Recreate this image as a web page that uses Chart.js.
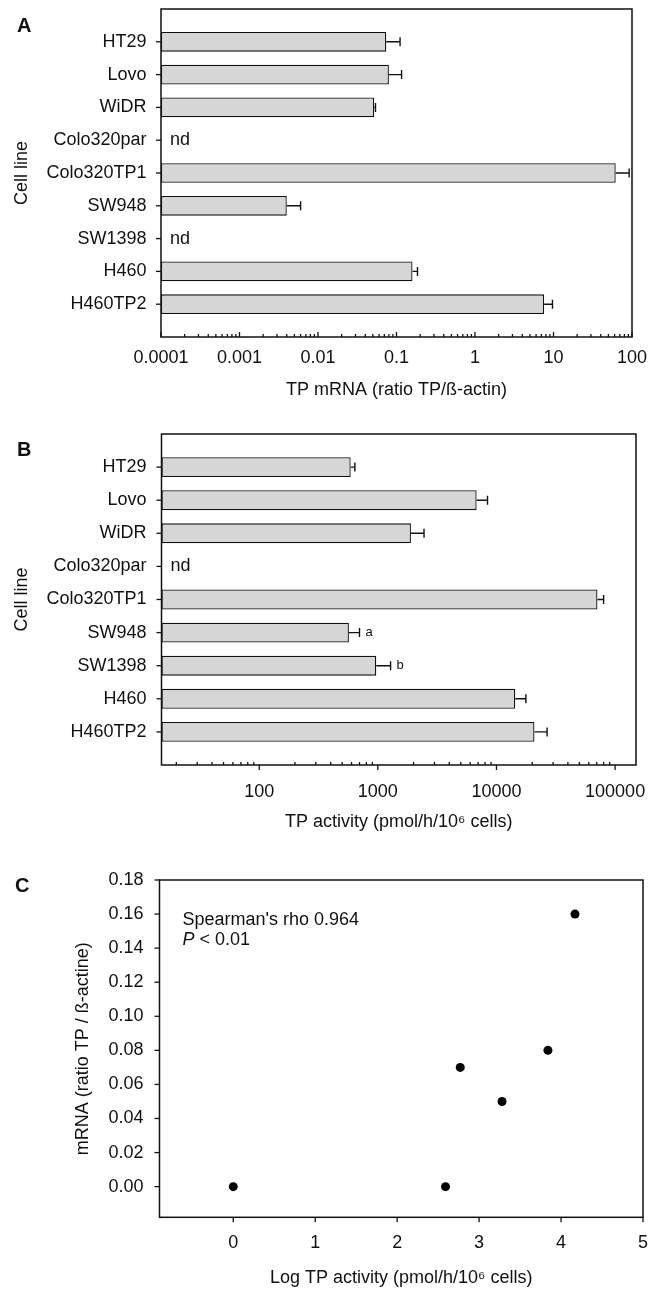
<!DOCTYPE html>
<html>
<head>
<meta charset="utf-8">
<script src="https://cdn.jsdelivr.net/npm/chart.js@4.4.1/dist/chart.umd.min.js"></script>
<style>
  html, body { margin: 0; padding: 0; background: #fff; }
  .panel { position: absolute; left: 0; width: 663px; }
</style>
</head>
<body>
<div class="panel" style="top:0;height:410px"><canvas id="chartA"></canvas></div>
<div class="panel" style="top:410px;height:430px"><canvas id="chartB"></canvas></div>
<div class="panel" style="top:840px;height:449px"><canvas id="chartC"></canvas></div>
<script>
// data
const cellLines = ["HT29", "Lovo", "WiDR", "Colo320par", "Colo320TP1", "SW948", "SW1398", "H460", "H460TP2"];
const mrna = [0.074, 0.080, 0.052, null, 62, 0.004, null, 0.16, 7.6];
const mrnaErr = [0.037, 0.036, 0.002, null, 30, 0.002, null, 0.025, 2.1];
const activity = [590, 6800, 1900, null, 71000, 570, 970, 14400, 20900];
const activityErr = [50, 1600, 550, null, 9000, 130, 310, 3300, 5800];
const activityNotes = ["", "", "", "", "", "a", "b", "", ""];
const mrnaTicks = [0.0001, 0.001, 0.01, 0.1, 1, 10, 100];
const mrnaTickLabels = ["0.0001", "0.001", "0.01", "0.1", "1", "10", "100"];
const activityTicks = [100, 1000, 10000, 100000];
const activityTickLabels = ["100", "1000", "10000", "100000"];
const logActivity = [0, 2.59, 2.77, 3.28, 3.84, 4.17];
const mrnaRatio = [0, 0, 0.07, 0.05, 0.08, 0.16];
const corrTicksX = [0, 1, 2, 3, 4, 5];
const corrTickLabelsX = ["0", "1", "2", "3", "4", "5"];
const corrTicksY = [0, 0.02, 0.04, 0.06, 0.08, 0.10, 0.12, 0.14, 0.16, 0.18];
const corrTickLabelsY = ["0.00", "0.02", "0.04", "0.06", "0.08", "0.10", "0.12", "0.14", "0.16", "0.18"];

const FONT = '"Liberation Sans", Arial, Helvetica, sans-serif';
const INK = '#111';
Chart.defaults.font.family = FONT;
Chart.defaults.font.size = 18;
Chart.defaults.color = INK;

function logMinors(min, max) {
  const out = [];
  for (let k = Math.floor(Math.log10(min)); k <= Math.ceil(Math.log10(max)); k++) {
    for (let m = 2; m <= 9; m++) {
      const v = m * Math.pow(10, k);
      if (v > min && v < max) out.push(v);
    }
  }
  return out;
}

function marks(chart, axis, values, len) {
  const s = chart.scales[axis], a = chart.chartArea, ctx = chart.ctx;
  values.forEach(v => {
    const p = s.getPixelForValue(v);
    ctx.beginPath();
    if (axis === 'x') { ctx.moveTo(p, a.bottom); ctx.lineTo(p, a.bottom + len); }
    else { ctx.moveTo(a.left, p); ctx.lineTo(a.left - len, p); }
    ctx.stroke();
  });
}

// frame, tick marks, error bars, "nd" and small notes
const decor = {
  id: 'decor',
  afterDatasetsDraw(chart, args, opts) {
    const ctx = chart.ctx, a = chart.chartArea;
    ctx.save();
    ctx.strokeStyle = INK;
    ctx.fillStyle = INK;
    ctx.lineWidth = 1.4;

    if (opts.err) {
      const meta = chart.getDatasetMeta(0), xs = chart.scales.x, ys = chart.scales.y;
      const vals = chart.data.datasets[0].data;
      vals.forEach((d, i) => {
        if (d.x == null) {
          ctx.font = '18px ' + FONT;
          ctx.textAlign = 'left';
          ctx.textBaseline = 'middle';
          ctx.fillText('nd', a.left + 9, ys.getPixelForValue(i));
          return;
        }
        const x1 = xs.getPixelForValue(d.x), x2 = xs.getPixelForValue(d.x + opts.err[i]);
        const y = meta.data[i].y;
        ctx.beginPath();
        ctx.moveTo(x1, y); ctx.lineTo(x2, y);
        ctx.moveTo(x2, y - 4.5); ctx.lineTo(x2, y + 4.5);
        ctx.stroke();
        if (opts.notes && opts.notes[i]) {
          ctx.font = '13px ' + FONT;
          ctx.textAlign = 'left';
          ctx.textBaseline = 'middle';
          ctx.fillText(opts.notes[i], x2 + 6, y);
        }
      });
    }

    ctx.lineWidth = 1.3;
    (opts.marks || []).forEach(m => marks(chart, m.axis, m.values, m.len));

    ctx.lineWidth = 1.5;
    ctx.strokeRect(a.left, a.top, a.width, a.height);

    if (opts.stat) {
      ctx.font = '18px ' + FONT;
      ctx.textAlign = 'left';
      ctx.textBaseline = 'middle';
      const x0 = a.left + 23;
      ctx.fillText("Spearman's rho 0.964", x0, a.top + 40);
      ctx.font = 'italic 18px ' + FONT;
      ctx.fillText('P', x0, a.top + 60);
      const w = ctx.measureText('P').width;
      ctx.font = '18px ' + FONT;
      ctx.fillText(' < 0.01', x0 + w, a.top + 60);
    }

    ctx.font = 'bold 20px ' + FONT;
    ctx.textAlign = 'left';
    ctx.textBaseline = 'alphabetic';
    ctx.fillText(opts.letter, opts.letterX, opts.letterY);
    ctx.restore();
  }
};

function barChart(id, values, errs, notes, xMin, xMax, ticks, tickLabels, majorLen, opt) {
  return new Chart(document.getElementById(id), {
    type: 'bar',
    data: {
      datasets: [{
        data: cellLines.map((c, i) => ({ x: values[i], y: i })),
        backgroundColor: '#d6d6d6',
        borderColor: INK,
        borderWidth: 1.3,
        borderSkipped: false,
        barPercentage: 0.6,
        categoryPercentage: 1
      }]
    },
    options: {
      indexAxis: 'y',
      responsive: true,
      maintainAspectRatio: false,
      animation: false,
      events: [],
      layout: { padding: { top: opt.top, right: opt.right, left: 0, bottom: 0 } },
      plugins: {
        legend: { display: false },
        tooltip: { enabled: false },
        decor: {
          err: errs, notes: notes,
          letter: opt.letter, letterX: 17, letterY: opt.letterY,
          marks: [
            { axis: 'y', values: cellLines.map((c, i) => i), len: 5 },
            { axis: 'x', values: ticks, len: majorLen },
            { axis: 'x', values: logMinors(xMin, xMax), len: -3 }
          ]
        }
      },
      scales: {
        y: {
          type: 'linear', reverse: true, min: -1, max: 9, offset: false,
          afterBuildTicks: s => { s.ticks = cellLines.map((c, i) => ({ value: i })); },
          afterFit: s => { s.width = opt.left; s.paddingTop = 0; s.paddingBottom = 0; },
          ticks: { callback: v => cellLines[v], padding: opt.left - 146.5, autoSkip: false },
          grid: { display: false, drawTicks: false },
          border: { display: false },
          title: { display: true, text: 'Cell line', padding: { top: 11, bottom: 0 } }
        },
        x: {
          type: 'logarithmic', min: xMin, max: xMax,
          afterBuildTicks: s => { s.ticks = ticks.map(v => ({ value: v })); },
          afterFit: s => { s.height = opt.xHeight; },
          ticks: { callback: (v, i) => tickLabels[i], padding: opt.tickPad, autoSkip: false, maxRotation: 0 },
          grid: { display: false, drawTicks: false },
          border: { display: false },
          title: { display: true, text: opt.title, padding: { top: 0, bottom: opt.titlePad } }
        }
      }
    },
    plugins: [decor]
  });
}

barChart('chartA', mrna, mrnaErr, null, 0.0001, 100, mrnaTicks, mrnaTickLabels, -5, {
  top: 9, right: 31, left: 161, xHeight: 73, tickPad: 10, titlePad: 9,
  title: 'TP mRNA (ratio TP/ß-actin)', letter: 'A', letterY: 32
});

barChart('chartB', activity, activityErr, activityNotes, 15, 150000, activityTicks, activityTickLabels, 5, {
  top: 24, right: 27, left: 161.5, xHeight: 75, tickPad: 16, titlePad: 7.5,
  title: 'TP activity (pmol/h/10\u2076 cells)', letter: 'B', letterY: 46
});

new Chart(document.getElementById('chartC'), {
  type: 'scatter',
  data: {
    datasets: [{
      data: logActivity.map((x, i) => ({ x: x, y: mrnaRatio[i] })),
      pointRadius: 4.5,
      pointBorderWidth: 0,
      backgroundColor: '#000',
      borderColor: '#000'
    }]
  },
  options: {
    responsive: true,
    maintainAspectRatio: false,
    animation: false,
    events: [],
    layout: { padding: { top: 40, right: 19.5, left: 0, bottom: 0 } },
    plugins: {
      legend: { display: false },
      tooltip: { enabled: false },
      decor: {
        stat: true, letter: 'C', letterX: 15, letterY: 52,
        marks: [
          { axis: 'y', values: corrTicksY, len: 5 },
          { axis: 'x', values: corrTicksX, len: 5 }
        ]
      }
    },
    scales: {
      x: {
        type: 'linear', min: -0.9, max: 5,
        afterBuildTicks: s => { s.ticks = corrTicksX.map(v => ({ value: v })); },
        afterFit: s => { s.height = 71.7; },
        ticks: { callback: (v, i) => corrTickLabelsX[i], padding: 15, autoSkip: false, maxRotation: 0 },
        grid: { display: false, drawTicks: false },
        border: { display: false },
        title: { display: true, text: 'Log TP activity (pmol/h/10\u2076 cells)', padding: { top: 0, bottom: 0 } }
      },
      y: {
        type: 'linear', min: -0.018, max: 0.18,
        afterBuildTicks: s => { s.ticks = corrTicksY.map(v => ({ value: v })); },
        afterFit: s => { s.width = 159.5; s.paddingTop = 0; s.paddingBottom = 0; },
        ticks: { callback: (v, i) => corrTickLabelsY[i], padding: 16, autoSkip: false },
        grid: { display: false, drawTicks: false },
        border: { display: false },
        title: { display: true, text: 'mRNA (ratio TP / ß-actine)', padding: { top: 72, bottom: 0 } }
      }
    }
  },
  plugins: [decor]
});
</script>
</body>
</html>
